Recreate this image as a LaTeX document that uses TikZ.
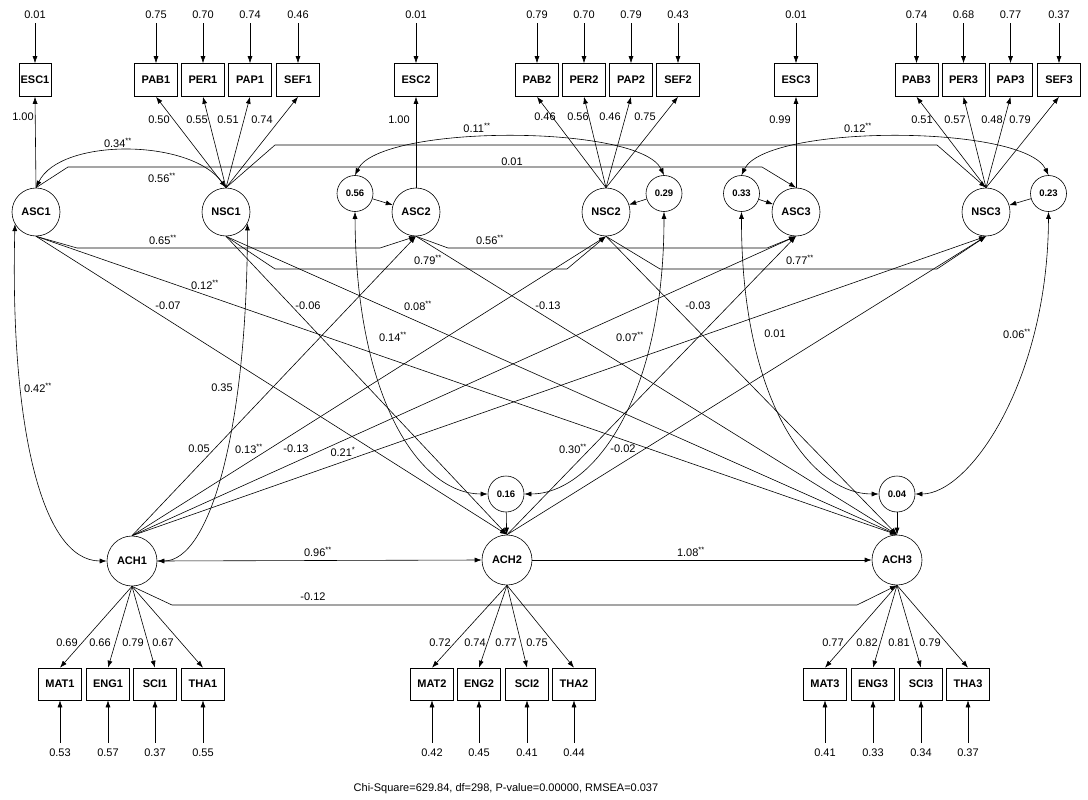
\documentclass[tikz,border=0pt]{standalone}
\usepackage{fontspec}
\setmainfont{Liberation Sans}
\usetikzlibrary{arrows.meta}
\newcommand{\st}[1]{\textsuperscript{#1}}
\begin{document}
\begin{tikzpicture}[x=1pt,y=-1pt,
  every node/.style={font=\fontsize{11}{13}\selectfont, inner sep=1pt},
  lat/.style={draw, circle, minimum size=48pt, inner sep=0pt, line width=0.6pt, font=\fontsize{11}{13}\selectfont\bfseries},
  ach/.style={lat, minimum size=50pt},
  dist/.style={draw, circle, minimum size=36pt, inner sep=0pt, line width=0.6pt, font=\fontsize{9.5}{11}\selectfont\bfseries},
  obs/.style={draw, rectangle, minimum width=43pt, minimum height=33pt, inner sep=0pt, line width=0.6pt, font=\fontsize{11}{13}\selectfont\bfseries},
  val/.style={inner sep=1pt},
  lbl/.style={inner sep=1pt},
  arr/.style={-{Latex[length=7pt,width=5pt]}, line width=0.6pt},
  darr/.style={{Latex[length=7pt,width=5pt]}-{Latex[length=7pt,width=5pt]}, line width=0.6pt}
]
\useasboundingbox (0,0) rectangle (1088,800);

% ---------- latent variables ----------
\node[lat] (ASC1) at (36,212) {ASC1};
\node[lat] (NSC1) at (226,212) {NSC1};
\node[lat] (ASC2) at (416,212) {ASC2};
\node[lat] (NSC2) at (606,212) {NSC2};
\node[lat] (ASC3) at (796,212) {ASC3};
\node[lat] (NSC3) at (986,212) {NSC3};
\node[ach] (ACH1) at (132,561) {ACH1};
\node[ach] (ACH2) at (507,560) {ACH2};
\node[ach] (ACH3) at (897,560) {ACH3};

% ---------- disturbances ----------
\node[dist] (d56) at (355,193.5) {0.56};
\node[dist] (d29) at (664,193.5) {0.29};
\node[dist] (d33) at (741.5,193.5) {0.33};
\node[dist] (d23) at (1048.5,193.5) {0.23};
\node[dist] (d16) at (506,494) {0.16};
\node[dist] (d04) at (897,494) {0.04};

% ---------- top indicators ----------
\node[obs, minimum width=32pt] (ESC1) at (35,80) {ESC1};
\node[obs] (PAB1) at (156,80) {PAB1};
\node[obs] (PER1) at (203,80) {PER1};
\node[obs] (PAP1) at (250,80) {PAP1};
\node[obs] (SEF1) at (298,80) {SEF1};
\node[obs] (ESC2) at (416,80) {ESC2};
\node[obs] (PAB2) at (537,80) {PAB2};
\node[obs] (PER2) at (584,80) {PER2};
\node[obs] (PAP2) at (631,80) {PAP2};
\node[obs] (SEF2) at (678,80) {SEF2};
\node[obs] (ESC3) at (796,80) {ESC3};
\node[obs] (PAB3) at (916.5,80) {PAB3};
\node[obs] (PER3) at (963.5,80) {PER3};
\node[obs] (PAP3) at (1010.5,80) {PAP3};
\node[obs] (SEF3) at (1059,80) {SEF3};

% ---------- bottom indicators ----------
\node[obs, minimum height=32pt] (MAT1) at (60,684) {MAT1};
\node[obs, minimum height=32pt] (ENG1) at (108,684) {ENG1};
\node[obs, minimum height=32pt] (SCI1) at (155,684) {SCI1};
\node[obs, minimum height=32pt] (THA1) at (203,684) {THA1};
\node[obs, minimum height=32pt] (MAT2) at (432,684) {MAT2};
\node[obs, minimum height=32pt] (ENG2) at (479,684) {ENG2};
\node[obs, minimum height=32pt] (SCI2) at (527,684) {SCI2};
\node[obs, minimum height=32pt] (THA2) at (574,684) {THA2};
\node[obs, minimum height=32pt] (MAT3) at (825,684) {MAT3};
\node[obs, minimum height=32pt] (ENG3) at (873,684) {ENG3};
\node[obs, minimum height=32pt] (SCI3) at (921,684) {SCI3};
\node[obs, minimum height=32pt] (THA3) at (968,684) {THA3};

% ---------- error values (top) ----------
\foreach \b/\v in {ESC1/0.01,PAB1/0.75,PER1/0.70,PAP1/0.74,SEF1/0.46,
                   ESC2/0.01,PAB2/0.79,PER2/0.70,PAP2/0.79,SEF2/0.43,
                   ESC3/0.01,PAB3/0.74,PER3/0.68,PAP3/0.77,SEF3/0.37}{
  \node[val] (v\b) at (\b |- 0,15) {\v};
  \draw[arr, shorten <=3pt] (v\b) -- (\b);
}
% ---------- error values (bottom) ----------
\foreach \b/\v in {MAT1/0.53,ENG1/0.57,SCI1/0.37,THA1/0.55,
                   MAT2/0.42,ENG2/0.45,SCI2/0.41,THA2/0.44,
                   MAT3/0.41,ENG3/0.33,SCI3/0.34,THA3/0.37}{
  \node[val] (v\b) at (\b |- 0,753) {\v};
  \draw[arr, shorten <=5pt] (v\b) -- (\b);
}

% ---------- loadings ----------
\draw[arr] (ASC1.north) -- (ESC1.south);
\draw[arr] (ASC2.north) -- (ESC2.south);
\draw[arr] (ASC3.north) -- (ESC3.south);
\foreach \b in {PAB1,PER1,PAP1,SEF1} \draw[arr] (NSC1.north) -- (\b.south);
\foreach \b in {PAB2,PER2,PAP2,SEF2} \draw[arr] (NSC2.north) -- (\b.south);
\foreach \b in {PAB3,PER3,PAP3,SEF3} \draw[arr] (NSC3.north) -- (\b.south);
\foreach \b in {MAT1,ENG1,SCI1,THA1} \draw[arr] (ACH1.south) -- (\b.north);
\foreach \b in {MAT2,ENG2,SCI2,THA2} \draw[arr] (ACH2.south) -- (\b.north);
\foreach \b in {MAT3,ENG3,SCI3,THA3} \draw[arr] (ACH3.south) -- (\b.north);

\node[lbl] (l100a) at (23,117) {1.00};
\node[lbl] (l100b) at (399,120) {1.00};
\node[lbl] (l099) at (780,120) {0.99};
\node[lbl] at (159,120) {0.50};
\node[lbl] at (197,120) {0.55};
\node[lbl] at (228,120) {0.51};
\node[lbl] at (262,120) {0.74};
\node[lbl] at (545,117) {0.46};
\node[lbl] at (578,117) {0.56};
\node[lbl] at (610,117) {0.46};
\node[lbl] at (645,117) {0.75};
\node[lbl] at (922,120) {0.51};
\node[lbl] at (955,120) {0.57};
\node[lbl] at (992,120) {0.48};
\node[lbl] at (1020,120) {0.79};
\node[lbl] at (67,643) {0.69};
\node[lbl] at (100,643) {0.66};
\node[lbl] at (133,643) {0.79};
\node[lbl] at (163,643) {0.67};
\node[lbl] at (440,643) {0.72};
\node[lbl] at (475,643) {0.74};
\node[lbl] at (506,643) {0.77};
\node[lbl] at (537,643) {0.75};
\node[lbl] at (833,643) {0.77};
\node[lbl] at (867,643) {0.82};
\node[lbl] at (899,643) {0.81};
\node[lbl] at (930,643) {0.79};

% ---------- disturbance arrows ----------
\draw[arr] (d56) -- (ASC2);
\draw[arr] (d29) -- (NSC2);
\draw[arr] (d33) -- (ASC3);
\draw[arr] (d23) -- (NSC3);
\draw[arr] (d16) -- (ACH2);
\draw[arr] (d04) -- (ACH3);

% ---------- correlations (curved) ----------
\draw[darr] (ASC1.north) .. controls (60,138) and (190,138) .. (NSC1.north);
\draw[darr] (d56.north) .. controls (380,124) and (640,124) .. (d29.north);
\draw[darr] (d33.north) .. controls (766,124) and (1024,124) .. (d23.north);
\draw[darr] (d56.south) .. controls (356,400) and (420,494) .. (d16.west);
\draw[darr] (d29.south) .. controls (664,400) and (592,494) .. (d16.east);
\draw[darr] (d33.south) .. controls (741,400) and (810,494) .. (d04.west);
\draw[darr] (d23.south) .. controls (1048,380) and (970,494) .. (d04.east);
\draw[darr] (ASC1.210) .. controls (10,420) and (40,561) .. (ACH1.west);
\draw[darr] (NSC1.-28) .. controls (247,430) and (210,561) .. (ACH1.east);

% ---------- autoregressive paths ----------
\draw[arr] (ASC1.north) -- (68,167) -- (762,167) -- (ASC3.north);
\draw[arr] (NSC1.north) -- (275,145) -- (937,145) -- (NSC3.north);
\draw[arr] (ASC1.south) -- (77,248) -- (380,248) -- (ASC2.south);
\draw[arr] (NSC1.south) -- (275,269) -- (567,269) -- (NSC2.south);
\draw[arr] (ASC2.south) -- (448,248) -- (767,248) -- (ASC3.south);
\draw[arr] (NSC2.south) -- (660,269) -- (937,269) -- (NSC3.south);
\draw[arr] (ACH1.east) -- (ACH2.west);
\draw[arr] (ACH2.east) -- (ACH3.west);
\draw[arr] (ACH1.south) -- (172,605) -- (857,605) -- (ACH3.south);

% ---------- cross-lagged paths ----------
\draw[arr] (ASC1.south) -- (ACH2.north);
\draw[arr] (ASC1.south) -- (ACH3.north);
\draw[arr] (NSC1.south) -- (ACH2.north);
\draw[arr] (NSC1.south) -- (ACH3.north);
\draw[arr] (ASC2.south) -- (ACH3.north);
\draw[arr] (NSC2.south) -- (ACH3.north);
\draw[arr] (ACH1.north) -- (ASC2.south);
\draw[arr] (ACH1.north) -- (NSC2.south);
\draw[arr] (ACH1.north) -- (ASC3.south);
\draw[arr] (ACH1.north) -- (NSC3.south);
\draw[arr] (ACH2.north) -- (ASC3.south);
\draw[arr] (ACH2.north) -- (NSC3.south);

% ---------- path labels ----------
\node[lbl] at (118,143) {0.34\st{**}};
\node[lbl] at (162,178) {0.56\st{**}};
\node[lbl] at (477,128) {0.11\st{**}};
\node[lbl] at (512,162) {0.01};
\node[lbl] at (858,128) {0.12\st{**}};
\node[lbl] at (163,240) {0.65\st{**}};
\node[lbl] at (428,260) {0.79\st{**}};
\node[lbl] at (490,240) {0.56\st{**}};
\node[lbl] at (800,260) {0.77\st{**}};
\node[lbl] at (205,285) {0.12\st{**}};
\node[lbl] at (168,306) {-0.07};
\node[lbl] at (308,306) {-0.06};
\node[lbl] at (418,306) {0.08\st{**}};
\node[lbl] at (548,306) {-0.13};
\node[lbl] at (698,306) {-0.03};
\node[lbl] at (393,337) {0.14\st{**}};
\node[lbl] at (630,337) {0.07\st{**}};
\node[lbl] at (775,334) {0.01};
\node[lbl] at (1017,334) {0.06\st{**}};
\node[lbl] at (38,388) {0.42\st{**}};
\node[lbl] at (222,388) {0.35};
\node[lbl] at (199,449) {0.05};
\node[lbl] at (249,449) {0.13\st{**}};
\node[lbl] at (296,449) {-0.13};
\node[lbl] at (343,452) {0.21\st{*}};
\node[lbl] at (573,449) {0.30\st{**}};
\node[lbl] at (623,449) {-0.02};
\node[lbl] at (318,552) {0.96\st{**}};
\node[lbl] at (691,552) {1.08\st{**}};
\node[lbl] at (313,597) {-0.12};

\node[lbl] (fit) at (506,789) {Chi-Square=629.84, df=298, P-value=0.00000, RMSEA=0.037};
\end{tikzpicture}
\end{document}
